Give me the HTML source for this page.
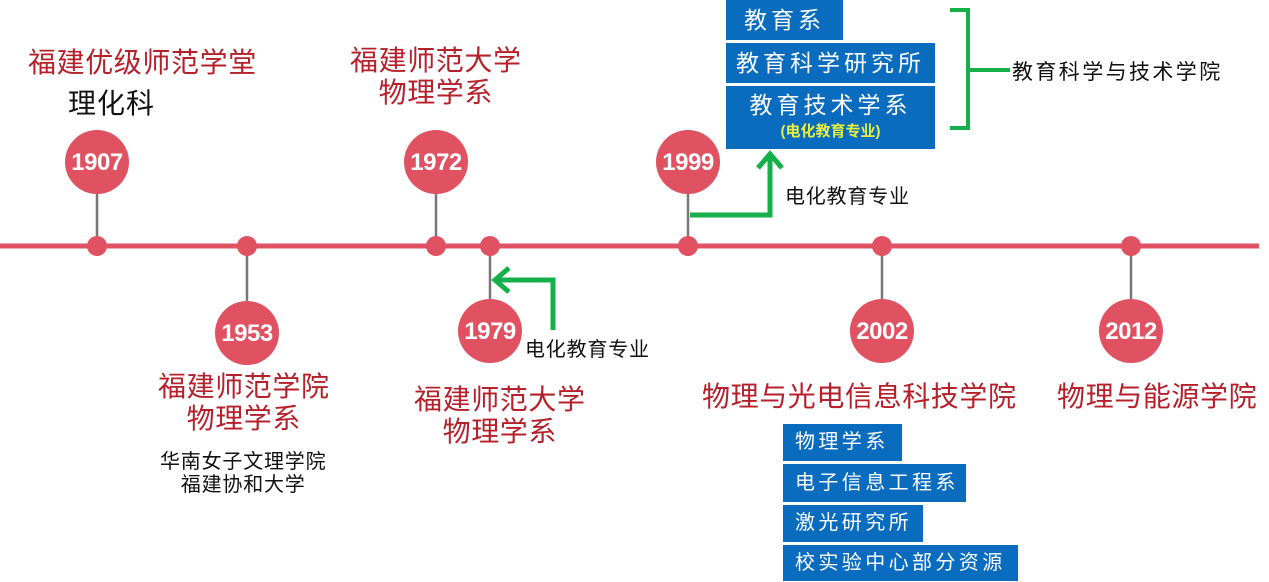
<!DOCTYPE html>
<html><head><meta charset="utf-8"><style>
body{margin:0;width:1269px;height:582px;background:#fff;position:relative;overflow:hidden;font-family:"Liberation Sans","Noto Sans CJK SC",sans-serif}
.t{position:absolute;white-space:nowrap}
.r{color:#b5202a;font-size:28px;line-height:32px;letter-spacing:0.6px}
.k{color:#111;font-size:20px;line-height:23px;letter-spacing:0.8px}
.b{position:absolute;background:#0a6cbf;color:#fff;font-size:20px;letter-spacing:3.4px;padding-left:12px;box-sizing:border-box;white-space:nowrap;overflow:visible}
.b2{position:absolute;background:#0a6cbf;color:#fff;font-size:23px;letter-spacing:4px;text-align:center;box-sizing:border-box;white-space:nowrap}
</style></head><body>
<svg width="1269" height="582" style="position:absolute;left:0;top:0">
<line x1="0" y1="246" x2="1259" y2="246" stroke="#e05262" stroke-width="5"/>
<g stroke="#777" stroke-width="2.5">
<line x1="97" y1="162" x2="97" y2="246"/><line x1="247" y1="246" x2="247" y2="333"/>
<line x1="436" y1="162" x2="436" y2="246"/><line x1="490" y1="246" x2="490" y2="331"/>
<line x1="688" y1="162" x2="688" y2="246"/><line x1="882" y1="246" x2="882" y2="331"/>
<line x1="1131" y1="246" x2="1131" y2="331"/></g>
<g fill="#e05262">
<circle cx="97" cy="246" r="10"/><circle cx="247" cy="246" r="10"/><circle cx="436" cy="246" r="10"/><circle cx="490" cy="246" r="10"/><circle cx="688" cy="246" r="10"/><circle cx="882" cy="246" r="10"/><circle cx="1131" cy="246" r="10"/>
<circle cx="97" cy="162" r="32"/><circle cx="247" cy="333" r="32"/><circle cx="436" cy="162" r="32"/><circle cx="490" cy="331" r="32"/><circle cx="688" cy="162" r="32"/><circle cx="882" cy="331" r="32"/><circle cx="1131" cy="331" r="32"/></g>
<g fill="#fff" font-size="24" font-weight="bold" text-anchor="middle" font-family="Liberation Sans" letter-spacing="-0.5">
<text x="97" y="170">1907</text><text x="247" y="341">1953</text><text x="436" y="170">1972</text><text x="490" y="339">1979</text><text x="688" y="170">1999</text><text x="882" y="339">2002</text><text x="1131" y="339">2012</text></g>
<g stroke="#16b04a" stroke-width="5" fill="none">
<polyline points="690,215 770,215 770,158"/><polyline points="758,168 770,154 782,168"/>
<polyline points="553,330 553,280 498,280"/><polyline points="509,268 495,280 509,292"/>
<path d="M950,10 H968 V128 H950 M968,70 H1010" stroke-width="4"/></g>
</svg>
<div class="t r" style="left:28px;top:47px">福建优级师范学堂</div>
<div class="t" style="left:68px;top:82px;font-size:28px;color:#111;letter-spacing:1px">理化科</div>
<div class="t r" style="left:350px;top:45px;text-align:center">福建师范大学<br>物理学系</div>
<div class="t r" style="left:158px;top:371px;text-align:center">福建师范学院<br>物理学系</div>
<div class="t k" style="left:160px;top:451px;text-align:center">华南女子文理学院<br>福建协和大学</div>
<div class="t r" style="left:414px;top:384px;text-align:center">福建师范大学<br>物理学系</div>
<div class="t k" style="left:525px;top:339px">电化教育专业</div>
<div class="t k" style="left:785px;top:186px">电化教育专业</div>
<div class="t r" style="left:702px;top:381px">物理与光电信息科技学院</div>
<div class="t r" style="left:1057px;top:381px">物理与能源学院</div>
<div class="t k" style="left:1012px;top:61px;font-size:21px;letter-spacing:2.4px">教育科学与技术学院</div>
<div class="b2" style="left:726px;top:0;width:117px;height:40px;line-height:40px">教育系</div>
<div class="b2" style="left:726px;top:43px;width:209px;height:40px;line-height:40px">教育科学研究所</div>
<div class="b2" style="left:726px;top:86px;width:209px;height:63px;line-height:38px">教育技术学系<div style="color:#e6f03c;font-size:15px;line-height:16px;letter-spacing:0;font-weight:bold">(电化教育专业)</div></div>
<div class="b" style="left:783px;top:424px;width:119px;height:37px;line-height:37px">物理学系</div>
<div class="b" style="left:783px;top:464px;width:183px;height:38px;line-height:38px">电子信息工程系</div>
<div class="b" style="left:783px;top:505px;width:140px;height:37px;line-height:37px">激光研究所</div>
<div class="b" style="left:783px;top:545px;width:235px;height:36px;line-height:36px">校实验中心部分资源</div>
</body></html>
